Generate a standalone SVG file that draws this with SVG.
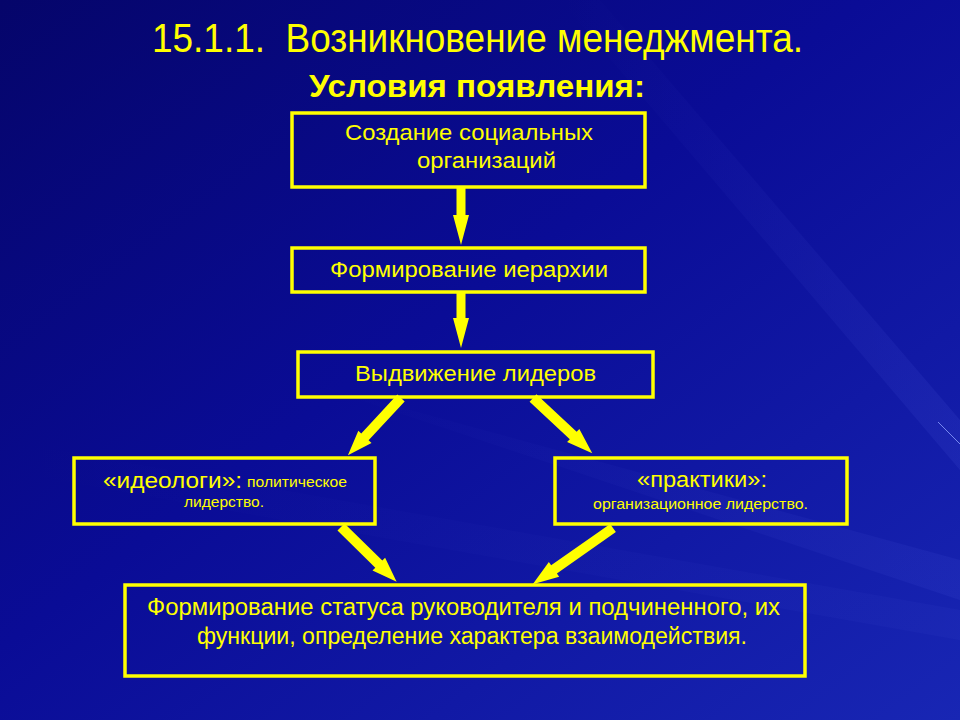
<svg xmlns="http://www.w3.org/2000/svg" width="960" height="720" viewBox="0 0 960 720">
<defs>
<linearGradient id="bg" x1="0" y1="0" x2="1" y2="1">
<stop offset="0" stop-color="#05056a"/>
<stop offset="0.45" stop-color="#0a0c96"/>
<stop offset="1" stop-color="#1826b4"/>
</linearGradient>
<linearGradient id="streak" x1="0" y1="0" x2="1" y2="0">
<stop offset="0" stop-color="#6f7dff" stop-opacity="0"/>
<stop offset="1" stop-color="#6f7dff" stop-opacity="0.3"/>
</linearGradient>
<style>
.box{fill:none;stroke:#ffff00;stroke-width:3.5}
.t{fill:#ffff00;font-family:"Liberation Sans",Arial,sans-serif;font-size:22.5px}
.s{fill:#ffff00;font-family:"Liberation Sans",Arial,sans-serif;font-size:14px}
.n{fill:#ffff00;font-family:"Liberation Sans Narrow","Liberation Sans",Arial,sans-serif}
.arr{fill:#ffff00}
</style>
</defs>
<rect width="960" height="720" fill="url(#bg)"/>
<polygon points="560,0 600,0 960,420 960,470" fill="url(#streak)" opacity="0.3"/>
<polygon points="300,380 960,560 960,600" fill="url(#streak)" opacity="0.25"/>
<polygon points="0,440 960,610 960,640 0,470" fill="url(#streak)" opacity="0.15"/>
<line x1="938" y1="422" x2="960" y2="444" stroke="#8fa0ff" stroke-width="1" opacity="0.8"/>

<g id="title">
<text class="n" x="152" y="52" font-size="40" textLength="651" lengthAdjust="spacingAndGlyphs" xml:space="preserve">15.1.1.  Возникновение менеджмента.</text>
<text class="n" x="309" y="97" font-size="31" font-weight="bold" textLength="336" lengthAdjust="spacingAndGlyphs">Условия появления:</text>
</g>

<g id="connectors">
<path class="arr" transform="translate(461,187) rotate(90)" d="M0,-4.5 L28,-4.5 L28,-8 L58,0 L28,8 L28,4.5 L0,4.5 Z"/>
<path class="arr" transform="translate(461,292) rotate(90)" d="M0,-4.5 L26,-4.5 L26,-8 L56,0 L26,8 L26,4.5 L0,4.5 Z"/>
<path class="arr" transform="translate(401,398) rotate(132.9)" d="M0,-5 L53,-5 L53,-9 L78,0 L53,9 L53,5 L0,5 Z"/>
<path class="arr" transform="translate(533,398) rotate(43)" d="M0,-5 L55,-5 L55,-9 L81,0 L55,9 L55,5 L0,5 Z"/>
<path class="arr" transform="translate(341,527) rotate(44.5)" d="M0,-5 L53,-5 L53,-9 L78,0 L53,9 L53,5 L0,5 Z"/>
<path class="arr" transform="translate(613,528) rotate(145)" d="M0,-5 L72,-5 L72,-9 L98,0 L72,9 L72,5 L0,5 Z"/>
</g>

<g id="n1">
<rect class="box" x="292" y="113" width="353" height="74"/>
<text class="t" x="345" y="140" textLength="248" lengthAdjust="spacingAndGlyphs">Создание социальных</text>
<text class="t" x="417" y="168" textLength="139" lengthAdjust="spacingAndGlyphs">организаций</text>
</g>

<g id="n2">
<rect class="box" x="292" y="248" width="353" height="44"/>
<text class="t" x="330" y="277" textLength="278" lengthAdjust="spacingAndGlyphs">Формирование иерархии</text>
</g>

<g id="n3">
<rect class="box" x="298" y="352" width="355" height="45"/>
<text class="t" x="355" y="381" textLength="241" lengthAdjust="spacingAndGlyphs">Выдвижение лидеров</text>
</g>

<g id="n4">
<rect class="box" x="74" y="458" width="301" height="66"/>
<text class="t" x="103" y="488" textLength="139" lengthAdjust="spacingAndGlyphs">«идеологи»:</text>
<text class="s" x="247" y="487" textLength="100" lengthAdjust="spacingAndGlyphs">политическое</text>
<text class="s" x="184" y="507" textLength="80" lengthAdjust="spacingAndGlyphs">лидерство.</text>
</g>

<g id="n5">
<rect class="box" x="555" y="458" width="292" height="66"/>
<text class="t" x="637" y="487" textLength="130" lengthAdjust="spacingAndGlyphs">«практики»:</text>
<text class="s" x="593" y="509" textLength="215" lengthAdjust="spacingAndGlyphs">организационное лидерство.</text>
</g>

<g id="n6">
<rect class="box" x="125" y="585" width="680" height="91"/>
<text class="n" font-size="23" x="147" y="615" textLength="633" lengthAdjust="spacingAndGlyphs">Формирование статуса руководителя и подчиненного, их</text>
<text class="n" font-size="23" x="197" y="644" textLength="550" lengthAdjust="spacingAndGlyphs">функции, определение характера взаимодействия.</text>
</g>
</svg>
